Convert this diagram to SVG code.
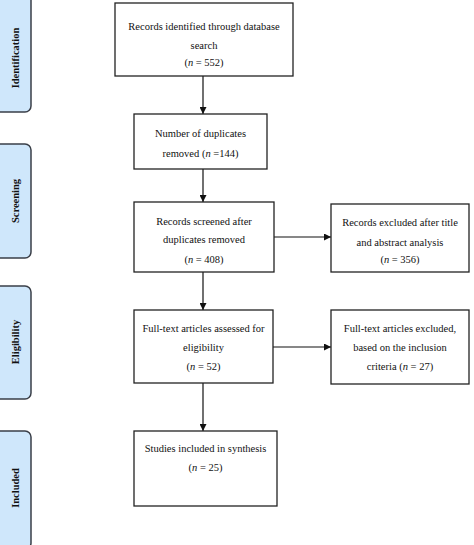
<svg xmlns="http://www.w3.org/2000/svg" width="474" height="545" viewBox="0 0 474 545">
<defs>
<style>
.box{fill:#fff;stroke:#222;stroke-width:1.3}
.side{fill:#cfe7fb;stroke:#3a3f48;stroke-width:1.5}
.t{font-family:"Liberation Serif","Times New Roman",serif;font-size:10.5px;fill:#111;text-anchor:middle}
.s{font-family:"Liberation Serif","Times New Roman",serif;font-size:10.5px;font-weight:bold;fill:#111;text-anchor:middle}
.c{stroke:#111;stroke-width:1.2;fill:none;marker-end:url(#ah)}
</style>
<marker id="ah" viewBox="0 0 10 10" refX="10" refY="5" markerWidth="7" markerHeight="7" markerUnits="userSpaceOnUse" orient="auto">
<path d="M0,0 L10,5 L0,10 Z" fill="#111"/>
</marker>
</defs>
<rect width="474" height="545" fill="#fff"/>
<g id="stage-identification">
<rect class="side" x="-8" y="-6" width="39" height="118" rx="6"/>
<text class="s" transform="translate(18.5,58) rotate(-90)">Identification</text>
</g>
<g id="stage-screening">
<rect class="side" x="-8" y="144" width="39" height="114" rx="6"/>
<text class="s" transform="translate(18.5,201) rotate(-90)">Screening</text>
</g>
<g id="stage-eligibility">
<rect class="side" x="-8" y="286" width="39" height="113" rx="6"/>
<text class="s" transform="translate(18.5,342) rotate(-90)">Eligibility</text>
</g>
<g id="stage-included">
<rect class="side" x="-8" y="431" width="39" height="118" rx="6"/>
<text class="s" transform="translate(18.5,488) rotate(-90)">Included</text>
</g>
<g id="connectors">
<line class="c" x1="203" y1="76" x2="203" y2="114"/>
<line class="c" x1="203" y1="169" x2="203" y2="202"/>
<line class="c" x1="274" y1="237" x2="331" y2="237"/>
<line class="c" x1="203" y1="272" x2="203" y2="310"/>
<line class="c" x1="273" y1="347" x2="331" y2="347"/>
<line class="c" x1="203" y1="383" x2="203" y2="431"/>
</g>
<g id="n1">
<rect class="box" x="115" y="3" width="178" height="73"/>
<text class="t" x="204" y="29.5">Records identified through database</text>
<text class="t" x="204" y="48.5">search</text>
<text class="t" x="204" y="65.5">(<tspan font-style="italic">n</tspan> = 552)</text>
</g>
<g id="n2">
<rect class="box" x="134" y="114" width="133" height="55"/>
<text class="t" x="200.5" y="136.5">Number of duplicates</text>
<text class="t" x="200.5" y="156.5">removed (<tspan font-style="italic">n</tspan> =144)</text>
</g>
<g id="n3">
<rect class="box" x="134" y="202" width="140" height="70"/>
<text class="t" x="204" y="224.5">Records screened after</text>
<text class="t" x="204" y="243">duplicates removed</text>
<text class="t" x="204" y="262.5">(<tspan font-style="italic">n</tspan> = 408)</text>
</g>
<g id="n4">
<rect class="box" x="331" y="204" width="138" height="68"/>
<text class="t" x="400" y="226">Records excluded after title</text>
<text class="t" x="400" y="245.5">and abstract analysis</text>
<text class="t" x="400" y="263">(<tspan font-style="italic">n</tspan> = 356)</text>
</g>
<g id="n5">
<rect class="box" x="134" y="310" width="139" height="73"/>
<text class="t" x="203.5" y="331.5">Full-text articles assessed for</text>
<text class="t" x="203.5" y="350.5">eligibility</text>
<text class="t" x="203.5" y="369.5">(<tspan font-style="italic">n</tspan> = 52)</text>
</g>
<g id="n6">
<rect class="box" x="331" y="310" width="138" height="74"/>
<text class="t" x="400" y="331.5">Full-text articles excluded,</text>
<text class="t" x="400" y="350.5">based on the inclusion</text>
<text class="t" x="400" y="369.5">criteria (<tspan font-style="italic">n</tspan> = 27)</text>
</g>
<g id="n7">
<rect class="box" x="134" y="431" width="143" height="75"/>
<text class="t" x="205.5" y="451.5">Studies included in synthesis</text>
<text class="t" x="205.5" y="470.5">(<tspan font-style="italic">n</tspan> = 25)</text>
</g>
</svg>
